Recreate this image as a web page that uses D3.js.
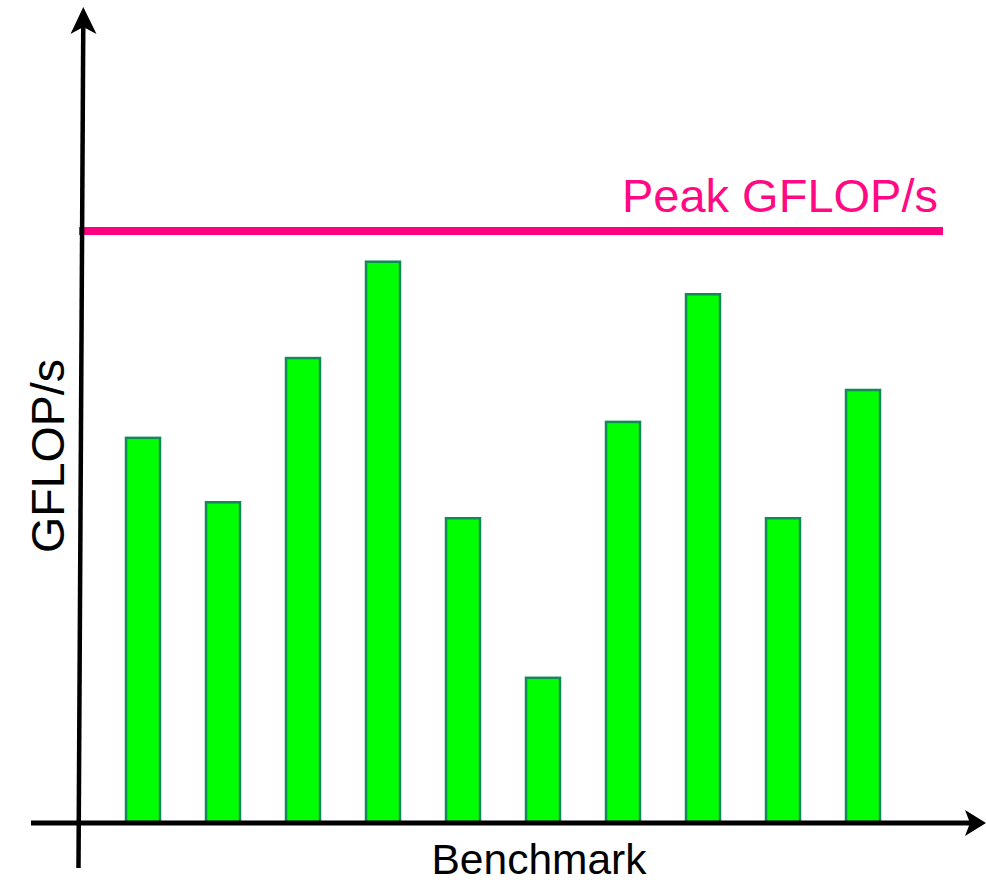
<!DOCTYPE html>
<html>
<head>
<meta charset="utf-8">
<script src="https://cdn.jsdelivr.net/npm/d3@7"></script>
<style>
html,body{margin:0;padding:0;background:#fff;}
svg{display:block;}
text{font-family:"Liberation Sans",Arial,sans-serif;}
</style>
</head>
<body>
<svg id="chart" width="986" height="883"></svg>
<script>
const categories = ["B1","B2","B3","B4","B5","B6","B7","B8","B9","B10"];
const values = [65.0, 54.1, 78.5, 94.8, 51.4, 24.4, 67.7, 89.3, 51.4, 73.1];
const peakValue = 100;
const peakLabel = "Peak GFLOP/s";
const yLabel = "GFLOP/s";
const xLabel = "Benchmark";

const svg = d3.select("#chart");

const x = d3.scaleBand().domain(categories).range([103, 903])
  .paddingInner(0.575).paddingOuter(0.2875);
const y = d3.scaleLinear().domain([0, peakValue]).range([822, 231]);

// bars
svg.append("g").selectAll("rect").data(values).join("rect")
  .attr("x", (d,i) => x(categories[i]))
  .attr("y", d => y(d))
  .attr("width", x.bandwidth())
  .attr("height", d => y(0) - y(d))
  .attr("fill", "#00ff00")
  .attr("stroke", "#118a55")
  .attr("stroke-width", 2.5);

// peak line
svg.append("line")
  .attr("x1", 79).attr("x2", 943)
  .attr("y1", y(peakValue)).attr("y2", y(peakValue))
  .attr("stroke", "#ff0080").attr("stroke-width", 8);

svg.append("text")
  .attr("x", 938).attr("y", 212)
  .attr("text-anchor", "end")
  .attr("fill", "#ff0a84")
  .attr("font-size", 47)
  .text(peakLabel);

// y axis
svg.append("line")
  .attr("x1", 78.5).attr("y1", 868).attr("x2", 83.3).attr("y2", 20)
  .attr("stroke", "#000").attr("stroke-width", 4.5);
svg.append("path")
  .attr("d", "M83.3,7 L96.5,34 L83.3,27 L70.5,34 Z")
  .attr("fill", "#000");

// x axis
svg.append("line")
  .attr("x1", 31).attr("y1", 823).attr("x2", 975).attr("y2", 823)
  .attr("stroke", "#000").attr("stroke-width", 5);
svg.append("path")
  .attr("d", "M986,823 L965,810 L970,823 L965,836 Z")
  .attr("fill", "#000");

// labels
svg.append("text")
  .attr("transform", "translate(64,456) rotate(-90)")
  .attr("text-anchor", "middle")
  .attr("font-size", 46.5)
  .attr("fill", "#000")
  .text(yLabel);

svg.append("text")
  .attr("x", 539).attr("y", 874)
  .attr("text-anchor", "middle")
  .attr("font-size", 42.5)
  .attr("fill", "#000")
  .text(xLabel);
</script>
</body>
</html>
